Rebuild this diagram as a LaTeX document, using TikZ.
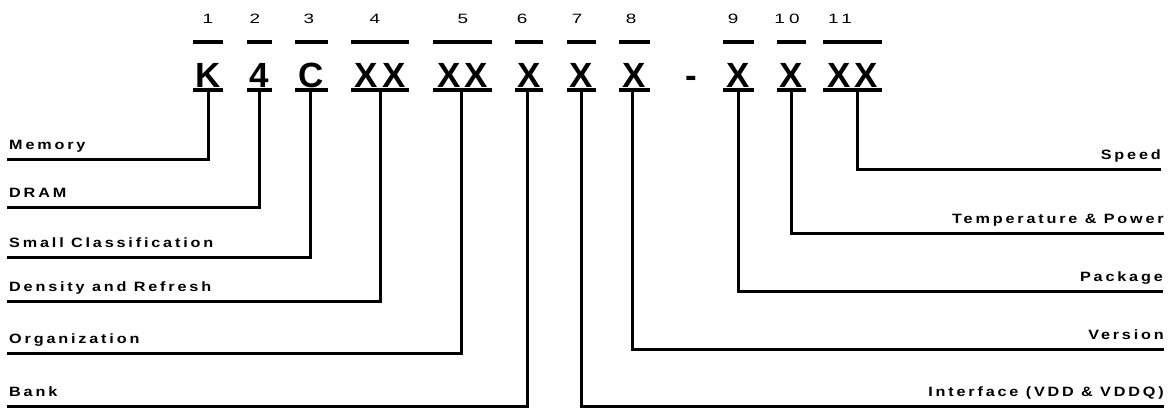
\documentclass[tikz,border=0pt]{standalone}
\usepackage{fontspec}
\setmainfont{Liberation Sans}
\newfontfamily\bigfont[LetterSpace=12]{Liberation Sans Bold}
\newfontfamily\capfont[LetterSpace=21, FakeStretch=1.2]{Liberation Sans Bold}
\newfontfamily\numfont[LetterSpace=30, FakeStretch=1.4]{Liberation Sans}
\usepackage{tikz}

\begin{document}
\begin{tikzpicture}[
  x=1pt, y=-1pt,
  field/.style={inner sep=0pt, anchor=base, text height=45pt, text depth=3pt,
    font=\bigfont\fontsize{35}{35}\selectfont},
  num/.style={inner sep=0pt, font=\numfont\fontsize{13.5}{13.5}\selectfont},
  leftlab/.style={inner xsep=2pt, inner ysep=0pt, text depth=9pt, anchor=south west,
    font=\capfont\fontsize{13.5}{13.5}\selectfont},
  rightlab/.style={inner sep=0pt, text depth=9pt, anchor=south east,
    font=\capfont\fontsize{13.5}{13.5}\selectfont},
  bar/.style={line width=4pt},
  conn/.style={line width=3pt},
]
  \useasboundingbox (0,0) rectangle (1170,410);

  % part number fields
  \node (f1)  [field, minimum width=30pt] at (208,87)   {K};
  \node (f2)  [field, minimum width=25pt] at (259.5,87) {4};
  \node (f3)  [field, minimum width=33pt] at (311.5,87) {C};
  \node (f4)  [field, minimum width=58pt] at (380,87)   {XX};
  \node (f5)  [field, minimum width=59pt] at (462.5,87) {XX};
  \node (f6)  [field, minimum width=28pt] at (529,87)   {X};
  \node (f7)  [field, minimum width=29pt] at (581.5,87) {X};
  \node (f8)  [field, minimum width=31pt] at (634.5,87) {X};
  \node (dash) [field] at (691,87) {-};
  \node (f9)  [field, minimum width=31pt] at (738.5,87) {X};
  \node (f10) [field, minimum width=29pt] at (791.5,87) {X};
  \node (f11) [field, minimum width=59pt] at (852.5,87) {XX};

  \foreach \f in {f1,f2,f3,f4,f5,f6,f7,f8,f9,f10,f11}
    \draw[bar] (\f.north west) -- (\f.north east) (\f.south west) -- (\f.south east);

  % position numbers
  \node (n1)  [num] at (208,19) {1};
  \node (n2)  [num] at (255,19) {2};
  \node (n3)  [num] at (309,19) {3};
  \node (n4)  [num] at (375,19) {4};
  \node (n5)  [num] at (463,19) {5};
  \node (n6)  [num] at (522,19) {6};
  \node (n7)  [num] at (577,19) {7};
  \node (n8)  [num] at (631,19) {8};
  \node (n9)  [num] at (733,19) {9};
  \node (n10) [num] at (787,19) {10};
  \node (n11) [num] at (840,19) {11};

  % descriptions
  \node (l1) [leftlab] at (7,159) {Memory};
  \node (l2) [leftlab] at (7,207) {DRAM};
  \node (l3) [leftlab] at (7,257) {Small Classification};
  \node (l4) [leftlab] at (7,301) {Density and Refresh};
  \node (l5) [leftlab] at (7,353) {Organization};
  \node (l6) [leftlab] at (7,406) {Bank};
  \node (r7)  [rightlab] at (1164,406) {Interface (VDD \& VDDQ)};
  \node (r8)  [rightlab] at (1164,349) {Version};
  \node (r9)  [rightlab] at (1163,291) {Package};
  \node (r10) [rightlab] at (1164,233) {Temperature \& Power};
  \node (r11) [rightlab] at (1161,169) {Speed};

  \draw[conn] (f1.south)  |- (l1.south west);
  \draw[conn] (f2.south)  |- (l2.south west);
  \draw[conn] ([xshift=-1pt]f3.south) |- (l3.south west);
  \draw[conn] (f4.south)  |- (l4.south west);
  \draw[conn] ([xshift=-1pt]f5.south) |- (l5.south west);
  \draw[conn] ([xshift=-2pt]f6.south) |- (l6.south west);
  \draw[conn] (f7.south)  |- (r7.south east);
  \draw[conn] ([xshift=-2pt]f8.south) |- (r8.south east);
  \draw[conn] (f9.south)  |- (r9.south east);
  \draw[conn] (f10.south) |- (r10.south east);
  \draw[conn] ([xshift=5pt]f11.south) |- (r11.south east);
\end{tikzpicture}
\end{document}
